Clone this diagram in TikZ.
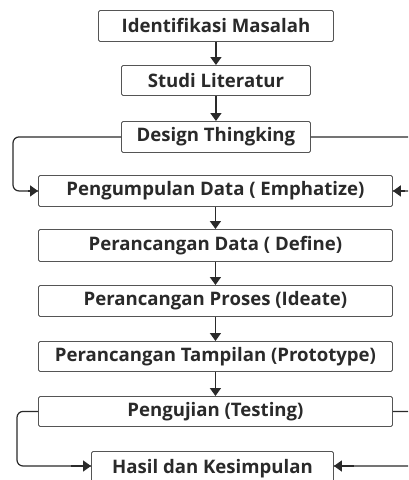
\documentclass[tikz,border=0pt]{standalone}
\usepackage{fontspec}
\setmainfont[Ligatures=NoCommon]{Open Sans}
\usetikzlibrary{arrows.meta}
\definecolor{txt}{HTML}{2A2A2A}
\definecolor{edge}{HTML}{555555}
\tikzset{
  box/.style={draw=edge, line width=0.9pt, rounded corners=1.5pt, fill=white, inner sep=0pt,
    font=\bfseries\fontsize{18.6}{20}\selectfont, text=txt, anchor=north west},
  conn/.style={draw=txt, line width=1.6pt, -{Triangle[length=8pt,width=11pt]}},
  link/.style={draw=txt, line width=1.2pt, rounded corners=6pt},
}
\begin{document}
\begin{tikzpicture}[x=1pt,y=-1pt]
\useasboundingbox (0,0) rectangle (408,480);
\clip (0,0) rectangle (408,480);
\node[box, minimum width=235pt, minimum height=31pt] (b1) at (98,10) {Identifikasi Masalah};
\node[box, minimum width=189pt, minimum height=30pt] (b2) at (121,65) {Studi Literatur};
\node[box, minimum width=189pt, minimum height=31pt] (b3) at (121,121) {Design Thingking};
\node[box, minimum width=354pt, minimum height=31pt] (b4) at (38,175) {Pengumpulan Data ( Emphatize)};
\node[box, minimum width=354pt, minimum height=32pt] (b5) at (38,229) {Perancangan Data ( Define)};
\node[box, minimum width=354pt, minimum height=31pt] (b6) at (38,285) {Perancangan Proses (Ideate)};
\node[box, minimum width=354pt, minimum height=30pt] (b7) at (38,341) {Perancangan Tampilan (Prototype)};
\node[box, minimum width=354pt, minimum height=30pt] (b8) at (38,396) {Pengujian (Testing)};
\node[box, minimum width=242pt, minimum height=34pt] (b9) at (91,451) {Hasil dan Kesimpulan};

\coordinate (lt1) at (13,0);
\coordinate (rt1) at (430,0);
\coordinate (lt2) at (17,0);
\coordinate (rt2) at (430,0);

\path[conn] (b1) -- (b2);
\path[conn] (b2) -- (b3);
\path[conn] (b4) -- (b5);
\path[conn] (b5) -- (b6);
\path[conn] (b6) -- (b7);
\path[conn] (b7) -- (b8);

\draw[link] (b3.west) -- (lt1 |- b3.west) -- (lt1 |- b4.west) -- (b4.west);
\path[conn] ([xshift=-10pt]b4.west) -- (b4.west);
\draw[link] (b3.east) -- (rt1 |- b3.east) -- (rt1 |- b4.east) -- (b4.east);
\path[conn] ([xshift=12pt]b4.east) -- (b4.east);

\draw[link] (b8.west) -- (lt2 |- b8.west) -- (lt2 |- 0,466) -- (b9.west |- 0,466);
\path[conn] ([xshift=-20pt]b9.west |- 0,466) -- (b9.west |- 0,466);
\draw[link] (b8.east) -- (rt2 |- b8.east) -- (rt2 |- 0,466) -- (b9.east |- 0,466);
\path[conn] ([xshift=20pt]b9.east |- 0,466) -- (b9.east |- 0,466);
\end{tikzpicture}
\end{document}
